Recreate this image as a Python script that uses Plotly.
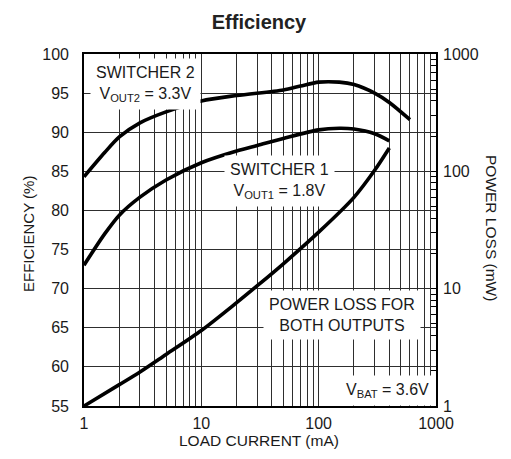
import plotly.graph_objects as go

# ---- data ----
load_sw2 = [1, 1.5, 2, 3, 5, 10, 20, 50, 70, 100, 150, 200, 300, 400, 600]
eff_sw2 = [84.3, 87.4, 89.4, 91.2, 92.6, 94.0, 94.7, 95.4, 95.9, 96.4, 96.4, 96.1, 95.0, 93.8, 91.6]

load_sw1 = [1, 1.5, 2, 3, 5, 10, 20, 30, 50, 100, 150, 200, 300, 400]
eff_sw1 = [73.0, 77.0, 79.4, 81.7, 83.9, 86.1, 87.6, 88.3, 89.2, 90.3, 90.5, 90.4, 89.8, 88.9]

load_loss = [1, 2, 3, 5, 10, 20, 30, 50, 100, 200, 300, 400]
power_loss = [1.0, 1.52, 1.95, 2.75, 4.4, 7.6, 10.6, 16.3, 30.3, 60, 102, 158]

x_ticks = [1, 10, 100, 1000]
eff_ticks = [55, 60, 65, 70, 75, 80, 85, 90, 95, 100]
loss_ticks = [1, 10, 100, 1000]

FONT = "Liberation Sans, Arial, sans-serif"
GRID = "#2e2e2e"
TXT = "#1a1a1a"

fig = go.Figure()
line = dict(color="black", width=3.6, shape="spline", smoothing=0.8)
fig.add_trace(go.Scatter(x=load_sw2, y=eff_sw2, mode="lines", line=line, yaxis="y"))
fig.add_trace(go.Scatter(x=load_sw1, y=eff_sw1, mode="lines", line=line, yaxis="y"))
fig.add_trace(go.Scatter(x=load_loss, y=power_loss, mode="lines", line=line, yaxis="y2"))

fig.update_layout(
    width=511, height=459,
    margin=dict(l=84, r=75, t=54, b=53, autoexpand=False),
    paper_bgcolor="white", plot_bgcolor="white",
    showlegend=False,
    font=dict(family=FONT, size=16, color=TXT),
    title=dict(text="<b>Efficiency</b>", x=259/511, xanchor="center", y=1-22/459, yanchor="middle",
               font=dict(family=FONT, size=20, color="#222")),
    xaxis=dict(type="log", range=[0, 3], tickvals=x_ticks, ticktext=[str(v) for v in x_ticks],
               showgrid=True, gridcolor=GRID, gridwidth=1.3,
               minor=dict(dtick="D1", showgrid=True, gridcolor=GRID, gridwidth=1.3, ticks=""),
               showline=True, linecolor="black", linewidth=1.6, mirror=True,
               ticks="", ticklabelstandoff=2, zeroline=False, automargin=False),
    yaxis=dict(range=[55, 100], tickvals=eff_ticks, showgrid=True, gridcolor=GRID, gridwidth=1.3,
               showline=True, linecolor="black", linewidth=1.6, mirror=True,
               ticks="", ticklabelstandoff=10, zeroline=False, automargin=False),
    yaxis2=dict(type="log", range=[0, 3], overlaying="y", side="right", tickvals=loss_ticks,
                ticktext=[str(v) for v in loss_ticks], showgrid=False,
                ticks="inside", ticklen=5, tickcolor="black", tickwidth=1,
                minor=dict(dtick="D1", ticks="inside", ticklen=5, tickcolor="black", tickwidth=1, showgrid=False),
                showline=False, ticklabelstandoff=6, zeroline=False, automargin=False),
)

def label(text, x, y):
    fig.add_annotation(text=text, x=x, y=y, xref="x", yref="y", showarrow=False,
                       xanchor="center", yanchor="middle", bgcolor="white", borderpad=5,
                       font=dict(family=FONT, size=16, color=TXT))

label("SWITCHER 2<br>V<sub>OUT2</sub> = 3.3V", 0.52, 96.2)
label("SWITCHER 1<br>V<sub>OUT1</sub> = 1.8V", 1.667, 83.8)
label("POWER LOSS FOR<br>BOTH OUTPUTS", 2.197, 66.6)
label("V<sub>BAT</sub> = 3.6V", 2.59, 57.0)

# axis titles (paper coords are relative to the plot area: 84..436 x, 54..406 y)
fig.add_annotation(text="LOAD CURRENT (mA)", x=(259-84)/352, y=(406-440)/352, xref="paper", yref="paper",
                   showarrow=False, xanchor="center", yanchor="middle", font=dict(size=15.5, color=TXT))
fig.add_annotation(text="EFFICIENCY (%)", x=(28-84)/352, y=(406-234)/352, xref="paper", yref="paper",
                   showarrow=False, xanchor="center", yanchor="middle", textangle=-90,
                   font=dict(size=15, color=TXT))
fig.add_annotation(text="POWER LOSS (mW)", x=(491-84)/352, y=(406-228)/352, xref="paper", yref="paper",
                   showarrow=False, xanchor="center", yanchor="middle", textangle=90,
                   font=dict(size=15.5, color=TXT))

fig.write_html("out.html", config={"displayModeBar": False},
               post_script="document.body.style.margin='0';")
